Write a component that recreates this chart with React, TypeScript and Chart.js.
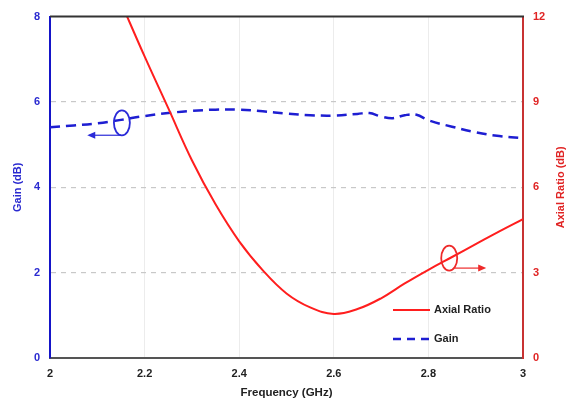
import React, { useEffect, useRef } from "react";
import { Chart, registerables } from "chart.js";

Chart.register(...registerables);

// ---- data ----
const arFreq = [2.15, 2.2, 2.25, 2.3, 2.35, 2.4, 2.45, 2.5, 2.55, 2.6, 2.65, 2.7, 2.75, 2.8, 2.85, 2.9, 2.95, 3.0];
const arValues = [12.5, 10.6, 8.78, 6.95, 5.4, 4.1, 3.08, 2.27, 1.78, 1.55, 1.72, 2.1, 2.62, 3.1, 3.55, 4.0, 4.45, 4.88];

const gainFreq = [2.0, 2.05, 2.1, 2.15, 2.2, 2.25, 2.3, 2.35, 2.4, 2.45, 2.5, 2.55, 2.6, 2.65, 2.675, 2.7, 2.725, 2.75, 2.775, 2.8, 2.85, 2.9, 2.95, 3.0];
const gainValues = [5.41, 5.45, 5.5, 5.58, 5.67, 5.74, 5.79, 5.82, 5.82, 5.78, 5.73, 5.69, 5.68, 5.72, 5.74, 5.66, 5.62, 5.69, 5.7, 5.57, 5.42, 5.29, 5.2, 5.15];

const xTicks = [2, 2.2, 2.4, 2.6, 2.8, 3];
const gainTicks = [0, 2, 4, 6, 8];
const arTicks = [0, 3, 6, 9, 12];

const xTitle = "Frequency (GHz)";
const gainTitle = "Gain (dB)";
const arTitle = "Axial Ratio (dB)";
const seriesNames = ["Axial Ratio", "Gain"];

// annotation marks (ellipse centre + arrow), in data units
const gainMarker = { f: 2.152, v: 5.51, arrowFrom: 2.15, arrowTo: 2.083, arrowV: 5.22 };
const arMarker = { f: 2.844, v: 3.51, arrowFrom: 2.855, arrowTo: 2.918, arrowV: 3.16 };

const FONT = "'Liberation Sans', Arial, sans-serif";
const RED = "#ff1e1e";
const BLUE = "#1e1ed2";

const decorPlugin = {
  id: "decor",
  afterDraw(chart: any) {
    const { ctx, chartArea, scales } = chart;
    const x = scales.x, y = scales.y, y1 = scales.y1;
    ctx.save();
    // top border
    ctx.strokeStyle = "#333";
    ctx.lineWidth = 2;
    ctx.beginPath();
    ctx.moveTo(chartArea.left, chartArea.top);
    ctx.lineTo(chartArea.right + 1, chartArea.top);
    ctx.stroke();

    // axis titles
    ctx.font = `bold 11px ${FONT}`;
    ctx.textAlign = "center";
    ctx.textBaseline = "middle";
    const cy = (chartArea.top + chartArea.bottom) / 2;
    ctx.fillStyle = "#2a2ad0";
    ctx.save();
    ctx.translate(18, cy);
    ctx.rotate(-Math.PI / 2);
    ctx.fillText(gainTitle, 0, 0);
    ctx.restore();
    ctx.fillStyle = "#e02424";
    ctx.save();
    ctx.translate(561, cy);
    ctx.rotate(-Math.PI / 2);
    ctx.fillText(arTitle, 0, 0);
    ctx.restore();
    ctx.fillStyle = "#222";
    ctx.font = `bold 11.5px ${FONT}`;
    ctx.fillText(xTitle, (chartArea.left + chartArea.right) / 2, 393);

    // legend
    const lx0 = chartArea.left + 343, lx1 = chartArea.left + 380;
    const ly0 = 310, ly1 = 339;
    ctx.lineWidth = 2;
    ctx.strokeStyle = RED;
    ctx.setLineDash([]);
    ctx.beginPath(); ctx.moveTo(lx0, ly0); ctx.lineTo(lx1, ly0); ctx.stroke();
    ctx.strokeStyle = BLUE;
    ctx.lineWidth = 2.5;
    ctx.setLineDash([8, 6]);
    ctx.beginPath(); ctx.moveTo(lx0, ly1); ctx.lineTo(lx1 + 2, ly1); ctx.stroke();
    ctx.setLineDash([]);
    ctx.fillStyle = "#222";
    ctx.font = `bold 11px ${FONT}`;
    ctx.textAlign = "left";
    ctx.fillText(seriesNames[0], lx1 + 4, ly0);
    ctx.fillText(seriesNames[1], lx1 + 4, ly1);

    // markers
    const drawMarker = (m: any, sc: any, color: string) => {
      const cx = x.getPixelForValue(m.f), cyy = sc.getPixelForValue(m.v);
      ctx.strokeStyle = color;
      ctx.lineWidth = 1.8;
      ctx.beginPath();
      ctx.ellipse(cx, cyy, 8, 12.5, 0, 0, Math.PI * 2);
      ctx.stroke();
      const ax0 = x.getPixelForValue(m.arrowFrom), ax1 = x.getPixelForValue(m.arrowTo);
      const ay = sc.getPixelForValue(m.arrowV);
      ctx.lineWidth = 1.2;
      ctx.beginPath(); ctx.moveTo(ax0, ay); ctx.lineTo(ax1, ay); ctx.stroke();
      const dir = ax1 > ax0 ? 1 : -1;
      ctx.fillStyle = color;
      ctx.beginPath();
      ctx.moveTo(ax1 + dir * 2, ay);
      ctx.lineTo(ax1 - dir * 6, ay - 3.5);
      ctx.lineTo(ax1 - dir * 6, ay + 3.5);
      ctx.closePath();
      ctx.fill();
    };
    drawMarker(gainMarker, y, "#2a2ad8");
    drawMarker(arMarker, y1, "#ee2a2a");
    ctx.restore();
  },
};

export default function App() {
  const ref = useRef<HTMLCanvasElement>(null);
  useEffect(() => {
    document.body.style.margin = "0";
    const canvas = ref.current!;
    const chart = new Chart(canvas, {
      type: "line",
      data: {
        datasets: [
          {
            label: seriesNames[0],
            data: arFreq.map((f, i) => ({ x: f, y: arValues[i] })),
            yAxisID: "y1",
            borderColor: RED,
            borderWidth: 2,
            pointRadius: 0,
            tension: 0.4,
            fill: false,
          },
          {
            label: seriesNames[1],
            data: gainFreq.map((f, i) => ({ x: f, y: gainValues[i] })),
            yAxisID: "y",
            borderColor: BLUE,
            borderWidth: 2.5,
            borderDash: [10, 6],
            pointRadius: 0,
            tension: 0.4,
            fill: false,
          },
        ],
      },
      options: {
        animation: false,
        responsive: false,
        devicePixelRatio: 1,
        layout: { padding: { top: 16, left: 0, right: 0, bottom: 0 } },
        plugins: { legend: { display: false }, tooltip: { enabled: false } },
        scales: {
          x: {
            type: "linear",
            min: 2,
            max: 3,
            afterBuildTicks: (s: any) => { s.ticks = xTicks.map((v) => ({ value: v })); },
            afterFit: (s: any) => { s.height = 43; },
            ticks: {
              color: "#222",
              font: { family: FONT, size: 11, weight: "bold" },
              padding: 9,
              maxRotation: 0,
              callback: (v: any) => String(Number(v)),
            },
            grid: {
              drawTicks: false,
              color: (c: any) => (c.tick && (c.tick.value === 2 || c.tick.value === 3) ? "rgba(0,0,0,0)" : "#ececec"),
              lineWidth: 1,
            },
            border: { color: "#555", width: 2, dash: [] },
          },
          y: {
            position: "left",
            min: 0,
            max: 8,
            afterBuildTicks: (s: any) => { s.ticks = gainTicks.map((v) => ({ value: v })); },
            afterFit: (s: any) => { s.width = 50; },
            ticks: {
              color: "#2a2ad0",
              font: { family: FONT, size: 11, weight: "bold" },
              padding: 10,
            },
            grid: {
              drawTicks: false,
              color: (c: any) => (c.tick && (c.tick.value === 0 || c.tick.value === 8) ? "rgba(0,0,0,0)" : "#c8c8c8"),
              lineWidth: 1.2,
            },
            border: { color: "#1515c8", width: 2, dash: [5, 5] },
          },
          y1: {
            position: "right",
            min: 0,
            max: 12,
            afterBuildTicks: (s: any) => { s.ticks = arTicks.map((v) => ({ value: v })); },
            afterFit: (s: any) => { s.width = 45; },
            ticks: {
              color: "#e02424",
              font: { family: FONT, size: 11, weight: "bold" },
              padding: 10,
            },
            grid: { display: false, drawTicks: false },
            border: { color: "#c83232", width: 2 },
          },
        },
      },
      plugins: [decorPlugin],
    } as any);
    return () => chart.destroy();
  }, []);
  return (
    <div style={{ width: 568, height: 401 }}>
      <canvas ref={ref} width={568} height={401} />
    </div>
  );
}
